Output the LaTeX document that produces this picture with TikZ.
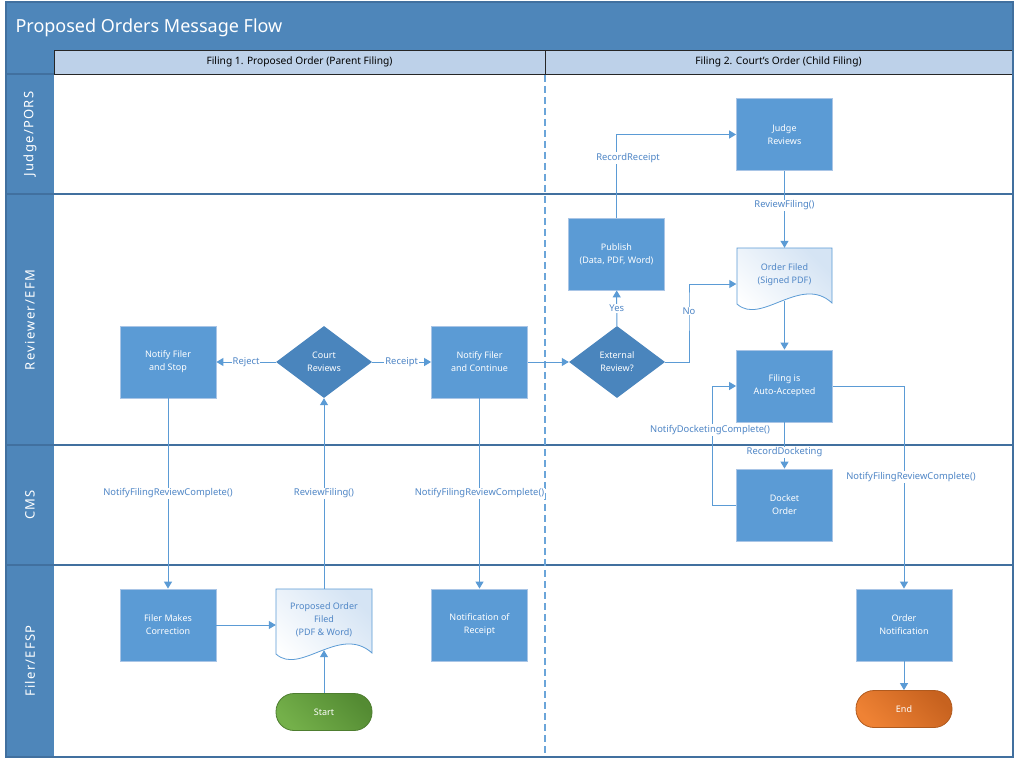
\documentclass[tikz,border=0pt]{standalone}
\usepackage{fontspec}
\setmainfont{Noto Sans}
\newfontfamily\lanefont[LetterSpace=10]{Noto Sans}
\usetikzlibrary{shapes.geometric,arrows.meta}
\definecolor{band}{HTML}{4E86BA}
\definecolor{hdr}{HTML}{BDD1E9}
\definecolor{laneline}{HTML}{41709F}
\definecolor{boxfill}{HTML}{5B9BD5}
\definecolor{boxdraw}{HTML}{A9C5E6}
\definecolor{dia}{HTML}{4A85BD}
\definecolor{conn}{HTML}{5B9BD5}
\definecolor{lbl}{HTML}{4F86C6}
\definecolor{docline}{HTML}{5B9BD5}
\definecolor{docfill}{HTML}{D5E4F4}
\definecolor{greenA}{HTML}{74B04A}
\definecolor{greenB}{HTML}{548B33}
\definecolor{greenD}{HTML}{4E7E30}
\definecolor{orangeA}{HTML}{EF8234}
\definecolor{orangeB}{HTML}{C7621F}
\definecolor{orangeD}{HTML}{B05A1E}
\tikzset{
  proc/.style={rectangle, fill=boxfill, draw=boxdraw, line width=0.8pt,
    minimum width=96pt, minimum height=72pt, inner sep=0pt, text=white,
    font=\fontsize{9}{13}\selectfont, align=center},
  dec/.style={diamond, fill=dia, minimum width=96pt, minimum height=72pt,
    inner sep=0pt, text=white, font=\fontsize{9}{13}\selectfont, align=center},
  docnode/.style={rectangle, minimum width=96pt, inner sep=0pt, text=lbl,
    font=\fontsize{9}{13}\selectfont, align=center},
  docshape/.style={draw=docline, line width=0.8pt, left color=white, right color=docfill, shading angle=135},
  term/.style={rectangle, rounded corners=18pt, minimum width=96pt, minimum height=37pt,
    inner sep=0pt, text=white, font=\fontsize{9}{11}\selectfont, line width=0.8pt},
  flow/.style={draw=conn, line width=1pt, -{Triangle[length=7pt,width=8pt]}},
  lab/.style={fill=white, text=lbl, font=\fontsize{9.4}{11}\selectfont, inner sep=1pt},
  lanetext/.style={rotate=90, text=white, font=\lanefont\fontsize{13}{15}\selectfont},
  hdrcell/.style={draw=black!85, fill=hdr, line width=0.9pt},
}
\begin{document}
\begin{tikzpicture}[x=1pt,y=-1pt]
\useasboundingbox (0,0) rectangle (1018,765);
% pool frame
\fill[white] (6,2) rectangle (1013,757);
\fill[band] (6,2) rectangle (1013,50);
\node[anchor=base west, text=white, font=\fontsize{18}{21}\selectfont] (title) at (12,33) {Proposed Orders Message Flow};
\fill[band] (6,50) rectangle (54,757);
% header cells
\draw[hdrcell] (54,50.5) rectangle (545,74);
\draw[hdrcell] (545,50.5) rectangle (1012,74);
\node[font=\fontsize{10.2}{12}\selectfont] (h1) at (299.5,62) {Filing 1. Proposed Order (Parent Filing)};
\node[font=\fontsize{10.2}{12}\selectfont] (h2) at (778.5,62) {Filing 2. Court's Order (Child Filing)};
% lane lines
\draw[laneline, line width=1.1pt] (6,194) -- (1013,194);
\draw[laneline, line width=1.1pt] (6,445) -- (1013,445);
\draw[laneline, line width=1.1pt] (6,565) -- (1013,565);
\draw[laneline, line width=1.1pt] (6,74) -- (54,74);
\draw[laneline, line width=1.2pt] (6,2) rectangle (1013,757);
% phase separator
\draw[conn!90, line width=1.4pt, dash pattern=on 7pt off 4pt] (545,75) -- (545,756);
% lane labels
\node[lanetext] (l1) at (30,134) {Judge/PORS};
\node[lanetext] (l2) at (30,320) {Reviewer/EFM};
\node[lanetext] (l3) at (30,505) {CMS};
\node[lanetext] (l4) at (30,661) {Filer/EFSP};

% ---------- left phase ----------
\node[proc] (stop) at (168,362) {Notify Filer\\and Stop};
\node[dec] (court) at (324,362) {Court\\Reviews};
\node[proc] (cont) at (479.5,362) {Notify Filer\\and Continue};
\node[proc] (fix) at (168,625) {Filer Makes\\Correction};
\draw[docshape] (276,654) -- (276,589) -- (372,589) -- (372,653)
  .. controls (340,624) and (300,676) .. (276,654) -- cycle;
\node[docnode, minimum height=61pt] (pof) at (324,619.5) {Proposed Order\\Filed\\(PDF \& Word)};
\node[proc] (rcpt) at (479.5,625) {Notification of\\Receipt};
\node[term, draw=greenD, left color=greenA, right color=greenB, shading angle=135] (start) at (324,712) {Start};

% ---------- right phase ----------
\node[proc] (judge) at (784.5,134.5) {Judge\\Reviews};
\node[proc] (pub) at (616.5,254) {Publish\\(Data, PDF, Word)};
\draw[docshape] (737,304) -- (737,248) -- (832,248) -- (832,303)
  .. controls (801,274) and (761,326) .. (737,304) -- cycle;
\node[docnode, minimum height=53pt] (ofd) at (784.5,274.5) {Order Filed\\(Signed PDF)};
\node[dec] (ext) at (617,362) {External\\Review?};
\node[proc] (auto) at (784.5,386) {Filing is\\Auto-Accepted};
\node[proc] (dock) at (784.5,505) {Docket\\Order};
\node[proc] (onot) at (904,625) {Order\\Notification};
\node[term, draw=orangeD, left color=orangeA, right color=orangeB, shading angle=135] (end) at (904,709) {End};

% ---------- connectors ----------
\draw[flow] (court) -- node[lab] {Reject} (stop);
\draw[flow] (court) -- node[lab] {Receipt} (cont);
\draw[flow] (cont) -- (ext);
\draw[flow] (ext) -- node[lab] {Yes} (pub);
\draw[flow] (ext.east) -| (689,300) |- (ofd.west |- 0,284);
\node[lab] (nolab) at (689,311) {No};
\draw[flow] (pub.north) |- (judge.west);
\node[lab] (rrlab) at (628,158) {RecordReceipt};
\draw[flow] (judge) -- node[lab, pos=0.45] {ReviewFiling()} (ofd);
\draw[flow] (ofd.south) -- (auto.north);
\draw[flow] (auto) -- node[lab, pos=0.65] {RecordDocketing} (dock);
\draw[flow] (dock.west) -- (712,505) -- (712,386) -- (auto.west);
\node[lab] (ndlab) at (710,430) {NotifyDocketingComplete()};
\draw[flow] (auto.east) -| (onot.north);
\node[lab] (nflab3) at (911,477) {NotifyFilingReviewComplete()};
\draw[flow] (onot) -- (end);
\draw[flow] (stop) -- node[lab, pos=0.5] {NotifyFilingReviewComplete()} (fix);
\draw[flow] (pof.north) -- node[lab, pos=0.5] {ReviewFiling()} (court.south);
\draw[flow] (cont) -- node[lab, pos=0.5] {NotifyFilingReviewComplete()} (rcpt);
\draw[flow] (fix) -- (pof.west |- fix.east);
\draw[flow] (start) -- (pof.south);
\end{tikzpicture}
\end{document}
